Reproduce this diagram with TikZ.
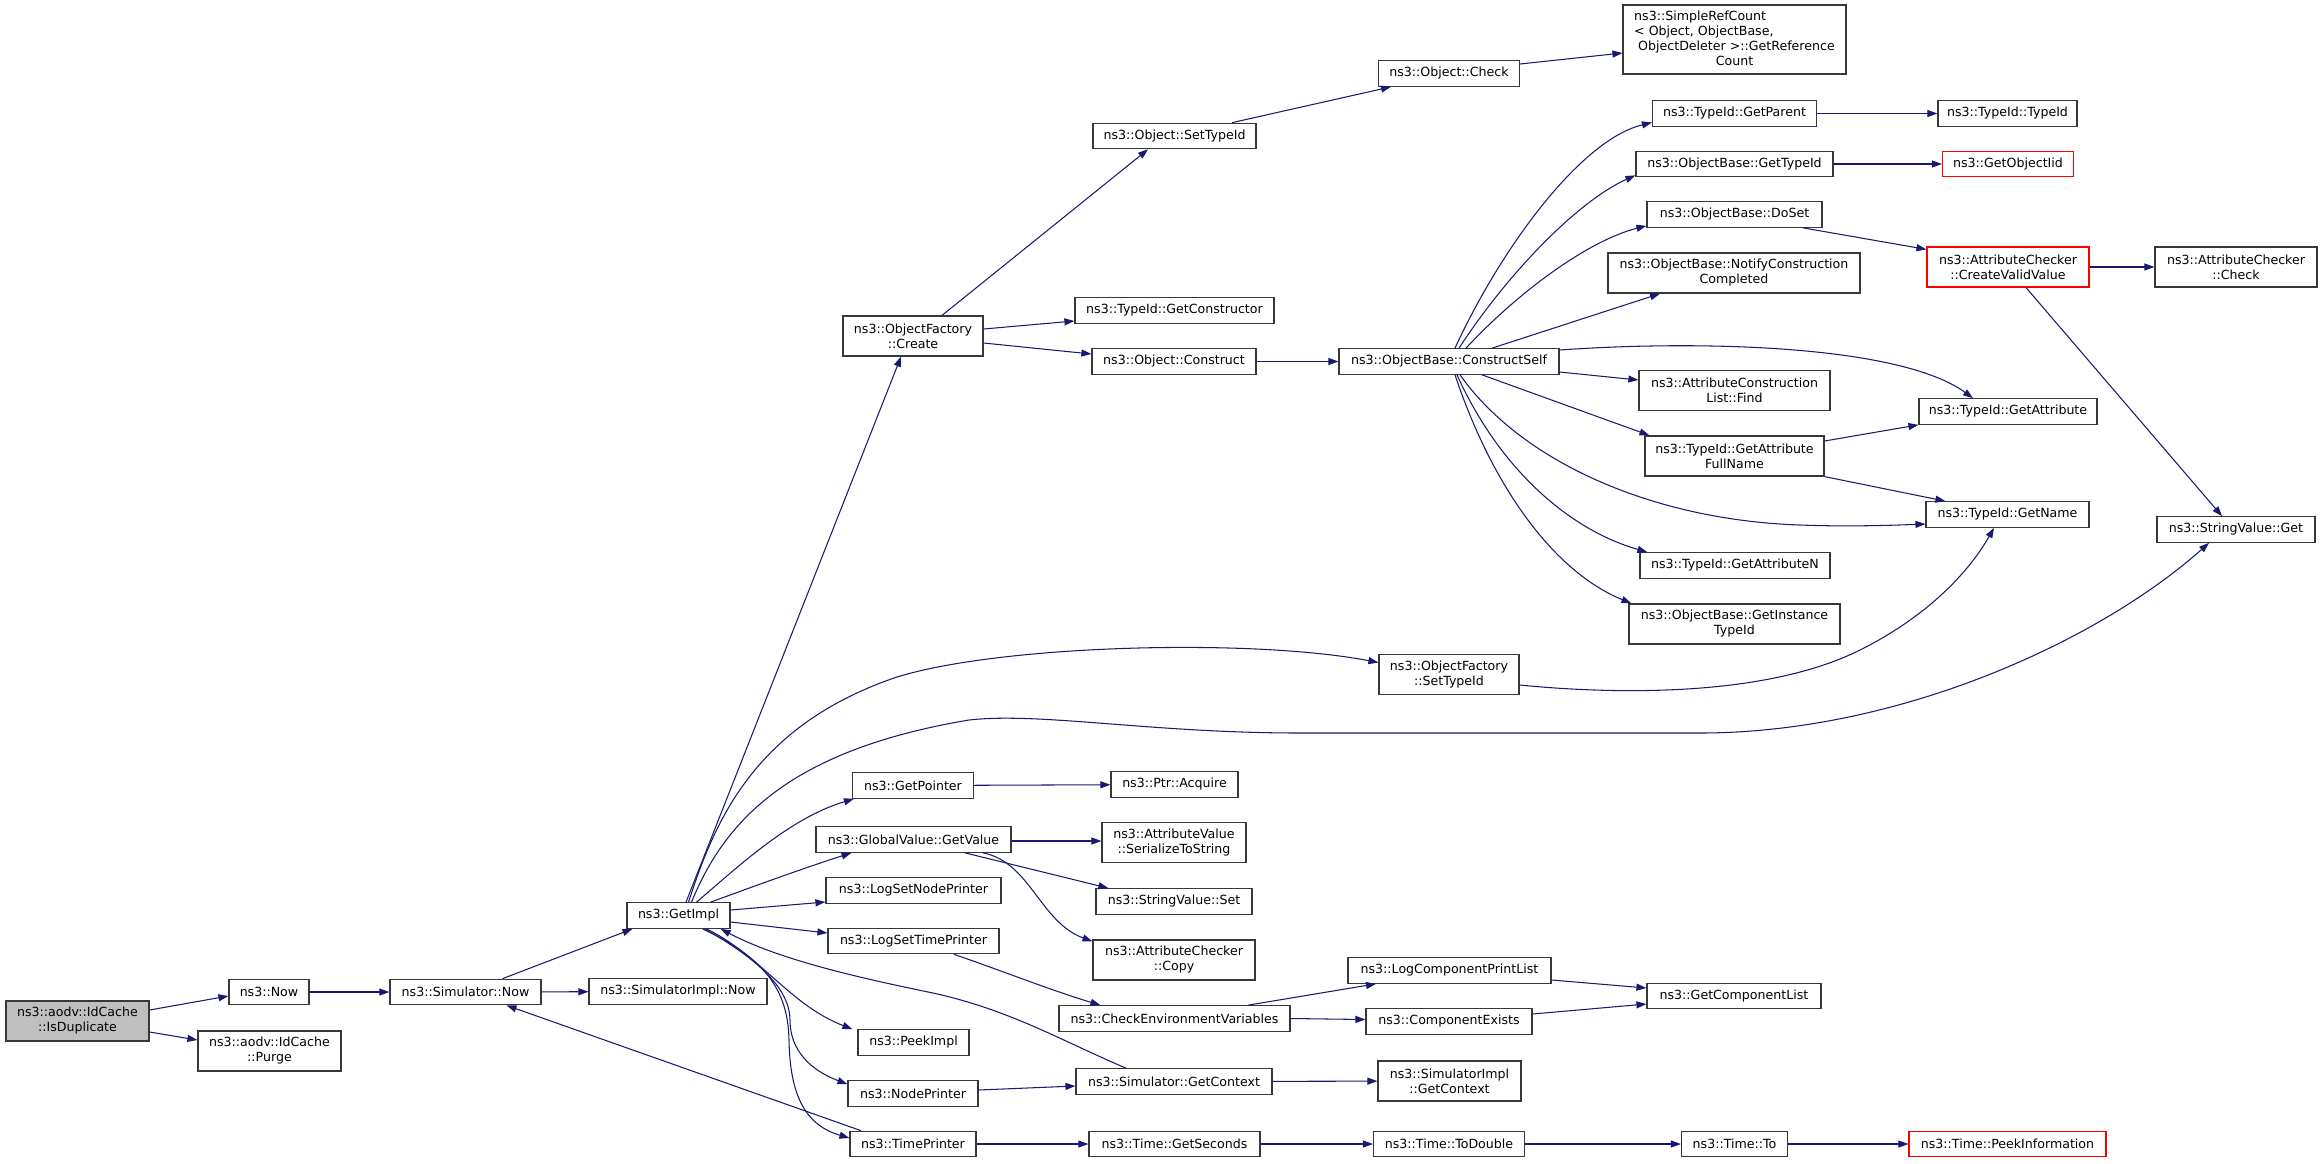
\documentclass[tikz,border=0pt]{standalone}
\usepackage{fontspec}
\usetikzlibrary{arrows.meta}
\newfontfamily\dvs{DejaVu Sans}
\newcommand\fnt{\dvs\fontsize{12.6}{15}\selectfont}
\definecolor{edgeblue}{RGB}{25,25,112}
\tikzset{
  fn/.style={draw=black!78, line width=1.2pt, fill=white, inner sep=0pt, align=center, minimum height=25.5pt, font=\fnt},
  fntwo/.style={fn, minimum height=40pt},
  redbox/.style={draw=red},
  graybox/.style={fill=black!25},
  edge/.style={draw=edgeblue, line width=1.05pt, -{Triangle[length=10pt,width=7pt,fill=edgeblue]}}
}
\begin{document}
\begin{tikzpicture}[x=1pt,y=-1pt]
\fill[white] (0,0) rectangle (2323,1163);
\useasboundingbox (0,0) rectangle (2323,1163);
% column 0-2
\node[fntwo, graybox, minimum width=143pt] (isdup) at (77.5,1021) {ns3::aodv::IdCache\\::IsDuplicate};
\node[fn, minimum width=80pt] (now) at (269,992) {ns3::Now};
\node[fntwo, minimum width=143pt] (purge) at (269.5,1051) {ns3::aodv::IdCache\\::Purge};
\node[fn, minimum width=151pt] (simnow) at (465.5,992) {ns3::Simulator::Now};
% column 3
\node[fn, minimum width=103pt] (getimpl) at (678.5,915.5) {ns3::GetImpl};
\node[fn, minimum width=178pt] (simimplnow) at (678,991.5) {ns3::SimulatorImpl::Now};
% column 4
\node[fntwo, minimum width=140pt] (ofcreate) at (913,336) {ns3::ObjectFactory\\::Create};
\node[fn, minimum width=121pt] (getpointer) at (913,785.5) {ns3::GetPointer};
\node[fn, minimum width=195pt] (getvalue) at (913.5,839.5) {ns3::GlobalValue::GetValue};
\node[fn, minimum width=175pt] (lognode) at (913.5,890.5) {ns3::LogSetNodePrinter};
\node[fn, minimum width=171pt] (logtime) at (913.5,941) {ns3::LogSetTimePrinter};
\node[fn, minimum width=111pt] (peekimpl) at (913.5,1042.5) {ns3::PeekImpl};
\node[fn, minimum width=130pt] (nodeprinter) at (913,1093.5) {ns3::NodePrinter};
\node[fn, minimum width=126pt] (timeprinter) at (913,1144) {ns3::TimePrinter};
% column 5
\node[fn, minimum width=163pt] (osettypeid) at (1174.5,136) {ns3::Object::SetTypeId};
\node[fn, minimum width=199pt] (getctor) at (1174.5,310.5) {ns3::TypeId::GetConstructor};
\node[fn, minimum width=164pt] (oconstruct) at (1174,361.5) {ns3::Object::Construct};
\node[fn, minimum width=127pt] (acquire) at (1174.5,784.5) {ns3::Ptr::Acquire};
\node[fntwo, minimum width=144pt] (serialize) at (1174,842.5) {ns3::AttributeValue\\::SerializeToString};
\node[fn, minimum width=156pt] (svset) at (1174,901.5) {ns3::StringValue::Set};
\node[fntwo, minimum width=162pt] (accopy) at (1174,960) {ns3::AttributeChecker\\::Copy};
\node[fn, minimum width=231pt] (checkenv) at (1174.5,1018.5) {ns3::CheckEnvironmentVariables};
\node[fn, minimum width=196pt] (simgetctx) at (1174,1081.5) {ns3::Simulator::GetContext};
\node[fn, minimum width=171pt] (getseconds) at (1174.5,1144) {ns3::Time::GetSeconds};
% column 6
\node[fn, minimum width=141pt] (ocheck) at (1449,73.5) {ns3::Object::Check};
\node[fn, minimum width=220pt] (constructself) at (1449,361.5) {ns3::ObjectBase::ConstructSelf};
\node[fntwo, minimum width=140pt] (ofsettypeid) at (1449,674.5) {ns3::ObjectFactory\\::SetTypeId};
\node[fn, minimum width=203pt] (logcpl) at (1449.5,970.5) {ns3::LogComponentPrintList};
\node[fn, minimum width=166pt] (compexists) at (1449,1021.5) {ns3::ComponentExists};
\node[fntwo, minimum width=143pt] (simimplctx) at (1449.5,1081) {ns3::SimulatorImpl\\::GetContext};
\node[fn, minimum width=151pt] (todouble) at (1449,1144) {ns3::Time::ToDouble};
% column 7
\node[fn, minimum width=223pt, minimum height=69pt] (simpleref) at (1734.5,39.5)
  {\begin{tabular}{@{}l@{}}ns3::SimpleRefCount\\< Object, ObjectBase,\\\ ObjectDeleter >::GetReference\\\multicolumn{1}{@{}c@{}}{Count}\end{tabular}};
\node[fn, minimum width=164pt] (typeidparent) at (1734.5,113.5) {ns3::TypeId::GetParent};
\node[fn, minimum width=197pt] (obgettypeid) at (1734.5,164) {ns3::ObjectBase::GetTypeId};
\node[fn, minimum width=175pt] (doset) at (1734.5,214.5) {ns3::ObjectBase::DoSet};
\node[fntwo, minimum width=252pt] (notify) at (1734,273) {ns3::ObjectBase::NotifyConstruction\\Completed};
\node[fntwo, minimum width=191pt] (acfind) at (1734.5,390.5) {ns3::AttributeConstruction\\List::Find};
\node[fntwo, minimum width=179pt] (fullname) at (1734.5,456) {ns3::TypeId::GetAttribute\\FullName};
\node[fn, minimum width=190pt] (getattrn) at (1735,565.5) {ns3::TypeId::GetAttributeN};
\node[fntwo, minimum width=211pt] (instance) at (1734.5,624) {ns3::ObjectBase::GetInstance\\TypeId};
\node[fn, minimum width=174pt] (getcomplist) at (1734,996) {ns3::GetComponentList};
\node[fn, minimum width=106pt] (timeto) at (1734.5,1144) {ns3::Time::To};
% column 8
\node[fn, minimum width=139pt] (typeidtypeid) at (2007.5,113.5) {ns3::TypeId::TypeId};
\node[fn, redbox, minimum width=131pt] (getobjectiid) at (2008,164) {ns3::GetObjectIid};
\node[fntwo, redbox, minimum width=162pt] (createvalid) at (2008,267) {ns3::AttributeChecker\\::CreateValidValue};
\node[fn, minimum width=178pt] (getattribute) at (2008,411.5) {ns3::TypeId::GetAttribute};
\node[fn, minimum width=163pt] (getname) at (2007.5,514.5) {ns3::TypeId::GetName};
\node[fn, redbox, minimum width=197pt] (peekinfo) at (2007.5,1144) {ns3::Time::PeekInformation};
% column 9
\node[fntwo, minimum width=162pt] (acCheck) at (2236,267) {ns3::AttributeChecker\\::Check};
\node[fn, minimum width=158pt] (svget) at (2236,529.5) {ns3::StringValue::Get};

% ---------- edges ----------
\draw[edge] ([yshift=11pt]isdup.east) -- ([yshift=-4pt]now.west);
\draw[edge] ([yshift=-11pt]isdup.east) -- ([yshift=11pt]purge.west);
\draw[edge] (now) -- (simnow);
\draw[edge] ([xshift=37pt]simnow.north) -- ([xshift=-46pt]getimpl.south);
\draw[edge] (simnow) -- (simimplnow);
\draw[edge] ([xshift=-52pt]timeprinter.north) -- ([xshift=41pt]simnow.south);
% from GetImpl upward
\draw[edge] ([xshift=7.5pt]getimpl.north) -- ([xshift=-12pt]ofcreate.south);
\draw[edge] ([xshift=10pt]getimpl.north) .. controls (715,820) and (755,725) .. (897,677)
   .. controls (1000,645) and (1250,638) .. ([yshift=12pt]ofsettypeid.west);
\draw[edge] ([xshift=13pt]getimpl.north) .. controls (725,820) and (790,750) .. (969,720)
   .. controls (1040,712) and (1150,733) .. (1300,733) -- (1700,733)
   .. controls (1900,733) and (2100,640) .. ([xshift=-27pt]svget.south);
\draw[edge] ([xshift=18pt]getimpl.north) .. controls (740,865) and (790,818) .. ([xshift=2pt]getpointer.south west);
\draw[edge] ([xshift=32pt]getimpl.north) .. controls (760,884) and (810,866) .. ([xshift=-62pt]getvalue.south);
\draw[edge] ([yshift=5.5pt]getimpl.east) -- ([yshift=-11.5pt]lognode.west);
\draw[edge] ([yshift=-6.5pt]getimpl.east) -- ([yshift=8pt]logtime.west);
% from GetImpl downward
\draw[edge] ([xshift=28pt]getimpl.south) .. controls (760,955) and (790,1005) .. ([xshift=-5pt]peekimpl.north west);
\draw[edge] ([xshift=26pt]getimpl.south) .. controls (760,960) and (790,990) .. (790,1020)
   .. controls (790,1050) and (810,1070) .. ([yshift=-4pt]nodeprinter.north west);
\draw[edge] ([xshift=24pt]getimpl.south) .. controls (765,958) and (788,990) .. (789,1040)
   .. controls (790,1095) and (805,1125) .. ([yshift=6pt]timeprinter.west);
\draw[edge] ([xshift=-48pt]simgetctx.north) .. controls (1060,1040) and (1010,1010) .. (933,993)
   .. controls (860,978) and (780,960) .. ([xshift=-10pt]getimpl.south east);
% ObjectFactory::Create
\draw[edge] ([xshift=29pt]ofcreate.north) -- ([xshift=-26.5pt]osettypeid.south);
\draw[edge] ([yshift=7pt]ofcreate.east) -- ([yshift=-10.5pt]getctor.west);
\draw[edge] ([yshift=-7pt]ofcreate.east) -- ([yshift=7.5pt]oconstruct.west);
\draw[edge] ([xshift=57.5pt]osettypeid.north) -- ([xshift=-58pt]ocheck.south);
\draw[edge] ([yshift=9.5pt]ocheck.east) -- ([yshift=-13.5pt]simpleref.west);
\draw[edge] (oconstruct) -- (constructself);
% ConstructSelf
\draw[edge] ([xshift=6pt]constructself.north) .. controls (1500,250) and (1580,140) .. ([yshift=-9pt]typeidparent.west);
\draw[edge] ([xshift=10pt]constructself.north) .. controls (1510,270) and (1580,200) .. ([yshift=2pt]obgettypeid.south west);
\draw[edge] ([xshift=17pt]constructself.north) .. controls (1520,290) and (1590,240) .. ([yshift=2pt]doset.south west);
\draw[edge] ([xshift=43pt]constructself.north) -- ([xshift=-74pt]notify.south);
\draw[edge] ([yshift=11.5pt]constructself.east) .. controls (1700,340) and (1900,345) .. ([xshift=-35pt]getattribute.north);
\draw[edge] ([yshift=-10.5pt]constructself.east) -- ([yshift=10.5pt]acfind.west);
\draw[edge] ([xshift=33pt]constructself.south) -- ([xshift=5pt]fullname.north west);
\draw[edge] ([xshift=11pt]constructself.south) .. controls (1520,460) and (1650,520) .. (1800,525)
   .. controls (1850,527) and (1900,525) .. ([yshift=-9.5pt]getname.west);
\draw[edge] ([xshift=8pt]constructself.south) .. controls (1500,470) and (1570,530) .. ([xshift=8pt]getattrn.north west);
\draw[edge] ([xshift=6pt]constructself.south) .. controls (1490,480) and (1550,570) .. ([xshift=3pt]instance.north west);
% right part
\draw[edge] (typeidparent) -- (typeidtypeid);
\draw[edge] (obgettypeid) -- (getobjectiid);
\draw[edge] ([xshift=68.5pt]doset.south) -- ([yshift=-3pt]createvalid.north west);
\draw[edge] (createvalid) -- (acCheck);
\draw[edge] ([xshift=18pt]createvalid.south) -- ([xshift=-14pt]svget.north);
\draw[edge] ([yshift=15pt]fullname.east) -- (getattribute.south west);
\draw[edge] (fullname.south east) -- ([xshift=20pt]getname.north west);
\draw[edge] ([yshift=-10.5pt]ofsettypeid.east) .. controls (1600,693) and (1760,700) .. (1860,650)
   .. controls (1930,615) and (1970,570) .. ([xshift=-13.5pt]getname.south);
% lower part
\draw[edge] (getpointer) -- (acquire);
\draw[edge] ([yshift=-1.5pt]getvalue.east) -- ([yshift=1.5pt]serialize.west);
\draw[edge] ([xshift=51.5pt]getvalue.south) -- ([xshift=13pt]svset.north west);
\draw[edge] ([xshift=69.5pt]getvalue.south) .. controls (1030,862) and (1040,922) .. ([yshift=-2pt]accopy.north west);
\draw[edge] ([xshift=40.5pt]logtime.south) .. controls (1000,970) and (1050,990) .. ([xshift=42pt]checkenv.north west);
\draw[edge] ([xshift=73.5pt]checkenv.north) -- ([xshift=-73.5pt]logcpl.south);
\draw[edge] (checkenv.east) -- ([yshift=2pt]compexists.west);
\draw[edge] ([yshift=-9.5pt]logcpl.east) -- ([yshift=8pt]getcomplist.west);
\draw[edge] ([yshift=7.5pt]compexists.east) -- ([yshift=-8pt]getcomplist.west);
\draw[edge] ([yshift=3.5pt]nodeprinter.east) -- ([yshift=-4.5pt]simgetctx.west);
\draw[edge] (simgetctx) -- (simimplctx);
\draw[edge] (timeprinter) -- (getseconds);
\draw[edge] (getseconds) -- (todouble);
\draw[edge] (todouble) -- (timeto);
\draw[edge] (timeto) -- (peekinfo);
\end{tikzpicture}
\end{document}
